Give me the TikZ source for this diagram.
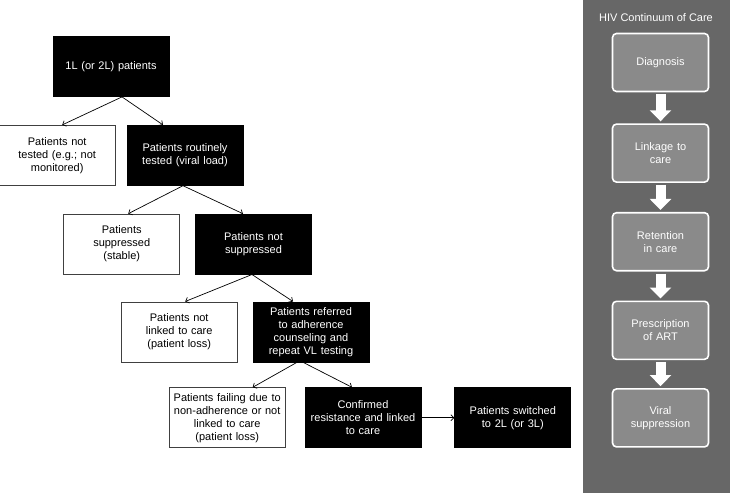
\documentclass[tikz,border=0pt]{standalone}
\usepackage{fontspec}
\setmainfont{Liberation Sans}
\usepackage{tikz}
\usetikzlibrary{arrows.meta,positioning}

\definecolor{panelgray}{HTML}{676767}
\definecolor{stepgray}{HTML}{8A8A8A}
\definecolor{edgegray}{HTML}{404040}

\begin{document}
\begin{tikzpicture}[x=1pt,y=1pt,
box/.style={draw=edgegray,line width=0.8pt,align=center,minimum height=60pt,minimum width=116pt,text width=112pt,inner sep=0pt,font=\fontsize{11}{13}\selectfont},
darkbox/.style={box,draw=black,fill=black,text=white},
stage/.style={draw=white,line width=1.6pt,rounded corners=4pt,fill=stepgray,text=white,align=center,minimum height=58pt,minimum width=96pt,text width=92pt,inner sep=0pt,font=\fontsize{11}{13}\selectfont},
arrow/.style={-{Straight Barb[length=3pt,width=6pt]},line width=0.7pt},
bigarrow/.style={white,line width=10pt,-{Triangle[length=11pt,width=21pt]},shorten <=2pt,shorten >=2pt}
]
\useasboundingbox (0,0) rectangle (730,-493);

% treatment cascade
\node[darkbox] (first) at (111,-66.5) {1L (or 2L) patients};
\node[darkbox,below=28pt of first,xshift=74pt] (tested) {Patients routinely\\tested (viral load)};
\node[box,left=11pt of tested] (nottested) {Patients not\\tested (e.g.; not\\monitored)};
\node[darkbox,below=28pt of tested,xshift=68.5pt] (notsupp) {Patients not\\suppressed};
\node[box,left=15pt of notsupp] (supp) {Patients\\suppressed\\(stable)};
\node[darkbox,below=27pt of notsupp,xshift=57.5pt] (referred) {Patients referred\\to adherence\\counseling and\\repeat VL testing};
\node[box,left=15pt of referred] (notlinked) {Patients not\\linked to care\\(patient loss)};
\node[darkbox,below=25pt of referred,xshift=52pt] (confirmed) {Confirmed\\resistance and linked\\to care};
\node[box,left=19pt of confirmed] (failing) {Patients failing due to\\non-adherence or not\\linked to care\\(patient loss)};
\node[darkbox,right=33pt of confirmed] (switched) {Patients switched\\to 2L (or 3L)};

\draw[arrow] ([xshift=11pt]first.south) -- ([xshift=5pt]nottested.north);
\draw[arrow] ([xshift=11pt]first.south) -- ([xshift=-22pt]tested.north);
\draw[arrow] ([xshift=-2pt]tested.south) -- ([xshift=6.5pt]supp.north);
\draw[arrow] ([xshift=-2pt]tested.south) -- ([xshift=-10.5pt]notsupp.north);
\draw[arrow] ([xshift=-1.5pt]notsupp.south) -- ([xshift=6pt]notlinked.north);
\draw[arrow] ([xshift=-1.5pt]notsupp.south) -- ([xshift=-18pt]referred.north);
\draw[arrow] ([xshift=-14pt]referred.south) -- ([xshift=25.5pt]failing.north);
\draw[arrow] ([xshift=-8pt]referred.south) -- ([xshift=-11pt]confirmed.north);
\draw[arrow] (confirmed) -- (switched);

% continuum panel
\fill[panelgray] (583,0) rectangle (730,-493);
\node[text=white,font=\fontsize{11}{13}\selectfont] (title) at (656,-18) {HIV Continuum of Care};
\node[stage] (diag) at (660.5,-62.5) {Diagnosis};
\node[stage,below=31pt of diag] (link) {Linkage to\\care};
\node[stage,below=29pt of link] (retain) {Retention\\in care};
\node[stage,below=29pt of retain] (prescr) {Prescription\\of ART};
\node[stage,below=28pt of prescr] (viral) {Viral\\suppression};
\draw[bigarrow] (diag) -- (link);
\draw[bigarrow] (link) -- (retain);
\draw[bigarrow] (retain) -- (prescr);
\draw[bigarrow] (prescr) -- (viral);
\end{tikzpicture}
\end{document}
